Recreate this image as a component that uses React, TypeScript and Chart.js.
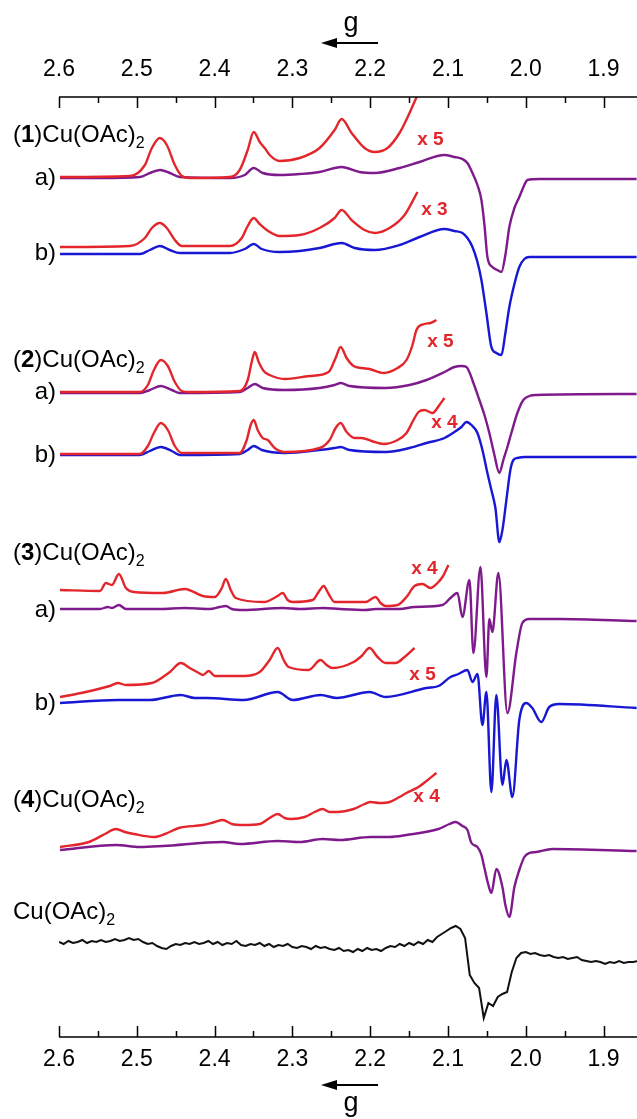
import React, { useEffect, useRef } from "react";
import { Chart, registerables } from "chart.js";

Chart.register(...registerables);

// ---------- axis ----------
const G_MIN = 1.857;
const G_MAX = 2.6;
const MAJOR_TICKS = [2.6, 2.5, 2.4, 2.3, 2.2, 2.1, 2.0, 1.9];
const MAJOR_LABELS = ["2.6", "2.5", "2.4", "2.3", "2.2", "2.1", "2.0", "1.9"];
const MINOR_TICKS = [2.55, 2.45, 2.35, 2.25, 2.15, 2.05, 1.95];

// ---------- (1)Cu(OAc)2 a) ----------
const G_1A = [2.5987, 2.547, 2.496, 2.483, 2.47, 2.4575, 2.4447, 2.3805, 2.3612, 2.3497, 2.3381, 2.3163, 2.2906, 2.265, 2.2367, 2.2136, 2.1943, 2.1623, 2.1366, 2.1045, 2.0917, 2.0814, 2.075, 2.0685, 2.0621, 2.057, 2.0531, 2.0493, 2.0429, 2.0365, 2.0313, 2.0262, 2.0211, 2.0146, 2.0083, 2.0018, 1.9979, 1.9825, 1.8575];
const I_1A = [0, 0, 1, 5, 8, 5, 1, 0, 3, 10, 5, 3, 4, 6, 11, 6, 5, 10, 16, 23, 21, 19, 15, 5, -7, -22, -47, -79, -89, -92, -94, -77, -49, -30, -19, -7, -2, -1, -1];
const G_1A_X5 = [2.5987, 2.5089, 2.4896, 2.4806, 2.4704, 2.4614, 2.4511, 2.4421, 2.4319, 2.3805, 2.3677, 2.3574, 2.3497, 2.342, 2.3356, 2.3292, 2.3163, 2.2906, 2.265, 2.2457, 2.2367, 2.2239, 2.2072, 2.1943, 2.1777, 2.1623, 2.1494, 2.1392];
const I_1A_X5 = [0, 1, 12, 29, 39, 32, 12, 1, -1, 0, 7, 27, 45, 35, 29, 22, 16, 19, 29, 47, 58, 44, 29, 25, 29, 44, 64, 82];

// ---------- (1)Cu(OAc)2 b) ----------
const G_1B = [2.5987, 2.496, 2.4832, 2.4704, 2.4575, 2.4447, 2.3805, 2.3612, 2.3497, 2.3394, 2.3163, 2.2906, 2.265, 2.2367, 2.22, 2.1943, 2.1623, 2.1366, 2.1045, 2.0917, 2.0814, 2.075, 2.0685, 2.0621, 2.057, 2.0506, 2.0442, 2.0378, 2.0313, 2.0262, 2.0211, 2.0146, 2.0083, 2.0018, 1.9954, 1.8575];
const I_1B = [0, 0, 4, 8, 4, 1, 1, 5, 10, 5, 2, 3, 6, 11, 6, 4, 9, 17, 25, 23, 21, 16, 7, -8, -26, -59, -93, -99, -101, -79, -53, -30, -13, -5, -3, -3];
const G_1B_X3 = [2.5987, 2.5089, 2.4896, 2.4806, 2.4704, 2.4614, 2.4511, 2.4421, 2.3805, 2.3651, 2.3574, 2.3497, 2.342, 2.333, 2.3163, 2.2906, 2.265, 2.2457, 2.2367, 2.2239, 2.2072, 2.1943, 2.1751, 2.1558, 2.1392];
const I_1B_X3 = [0, 1, 9, 19, 24, 19, 7, 1, 1, 9, 21, 29, 23, 17, 11, 12, 19, 29, 37, 27, 17, 14, 19, 32, 55];

// ---------- (2)Cu(OAc)2 a) ----------
const G_2A = [2.5987, 2.496, 2.4832, 2.4691, 2.455, 2.4447, 2.3677, 2.3574, 2.3484, 2.3381, 2.3099, 2.265, 2.2457, 2.238, 2.2264, 2.1802, 2.1494, 2.1276, 2.1045, 2.0917, 2.0827, 2.0762, 2.0673, 2.0596, 2.0531, 2.0468, 2.0403, 2.0339, 2.0288, 2.0236, 2.0185, 2.0108, 2.0031, 1.9954, 1.9864, 1.8575];
const I_2A = [0, 0, 3, 7, 3, 0, 1, 5, 9, 5, 3, 5, 8, 10, 7, 5, 8, 13, 21, 26, 27, 26, 10, -7, -22, -40, -62, -80, -67, -54, -40, -20, -7, -3, -2, -1];
const G_2A_X5 = [2.5987, 2.496, 2.4858, 2.478, 2.4691, 2.4601, 2.4511, 2.4421, 2.4319, 2.3677, 2.3574, 2.3523, 2.3484, 2.3433, 2.3369, 2.3292, 2.3099, 2.2778, 2.2534, 2.2444, 2.238, 2.2303, 2.2213, 2.211, 2.2008, 2.1828, 2.1648, 2.1533, 2.1456, 2.1405, 2.1302, 2.1225, 2.1148];
const I_2A_X5 = [0, 0, 7, 22, 32, 26, 10, 1, 0, 1, 12, 30, 40, 30, 21, 17, 13, 16, 20, 34, 45, 34, 26, 24, 23, 19, 24, 32, 47, 62, 68, 69, 72];

// ---------- (2)Cu(OAc)2 b) ----------
const G_2B = [2.5987, 2.496, 2.4832, 2.4691, 2.455, 2.4447, 2.3677, 2.3574, 2.3497, 2.3394, 2.3099, 2.265, 2.2457, 2.238, 2.2264, 2.1802, 2.1494, 2.1276, 2.1045, 2.0917, 2.0827, 2.0762, 2.0698, 2.0621, 2.0557, 2.0493, 2.0442, 2.039, 2.0339, 2.03, 2.0249, 2.0198, 2.0159, 2.0108, 2.0005, 1.8575];
const I_2B = [0, 0, 4, 8, 4, 0, 1, 5, 9, 5, 2, 5, 7, 8, 5, 3, 7, 12, 17, 23, 28, 33, 30, 22, 5, -18, -35, -53, -87, -75, -45, -15, -5, -3, -2, -2];
const G_2B_X4 = [2.5987, 2.496, 2.4858, 2.478, 2.4691, 2.4601, 2.4511, 2.4421, 2.3677, 2.3587, 2.3536, 2.3497, 2.3446, 2.3381, 2.3317, 2.3228, 2.3099, 2.265, 2.2521, 2.2444, 2.238, 2.2303, 2.22, 2.211, 2.1982, 2.1828, 2.1648, 2.1533, 2.1443, 2.1379, 2.1302, 2.1199, 2.111, 2.1045];
const I_2B_X4 = [0, 0, 8, 21, 31, 24, 8, 1, 1, 14, 29, 34, 24, 16, 14, 6, 2, 6, 14, 26, 31, 22, 16, 16, 13, 10, 14, 21, 34, 42, 44, 41, 49, 56];

// ---------- (3)Cu(OAc)2 a) ----------
const G_3A = [2.5987, 2.5474, 2.5371, 2.532, 2.523, 2.514, 2.4704, 2.4383, 2.4062, 2.3933, 2.3856, 2.3779, 2.3625, 2.3125, 2.2906, 2.2598, 2.2393, 2.2059, 2.193, 2.1623, 2.143, 2.1071, 2.0968, 2.0878, 2.0814, 2.0724, 2.0673, 2.0583, 2.0506, 2.0468, 2.0429, 2.0352, 2.0236, 2.0121, 2.0044, 1.9954, 1.9569, 1.8575];
const I_3A = [0, 0, 2, 1, 4, 0, 0, 1, 0, 2, 3, 0, -1, 1, 0, 1, 0, -1, 0, 0, 2, 4, 11, 16, -8, 29, -44, 42, -68, -10, -23, 36, -104, -44, -14, -10, -10, -12];
const G_3A_X4 = [2.5987, 2.5474, 2.5397, 2.532, 2.523, 2.514, 2.5037, 2.4665, 2.4383, 2.4151, 2.3997, 2.3907, 2.3856, 2.3792, 2.3728, 2.3368, 2.3189, 2.3125, 2.3061, 2.2997, 2.274, 2.2663, 2.2598, 2.2534, 2.2457, 2.2059, 2.193, 2.1866, 2.1802, 2.1648, 2.1533, 2.143, 2.1327, 2.1225, 2.1135, 2.1071, 2.0994];
const I_3A_X4 = [0, -1, 7, 5, 16, 2, -2, -3, 1, -6, -7, 2, 11, 0, -8, -12, -6, -3, -10, -12, -10, -2, 4, -4, -12, -12, -7, -13, -16, -15, -7, 4, 6, 2, 7, 13, 25];

// ---------- (3)Cu(OAc)2 b) ----------
const G_3B = [2.5987, 2.5243, 2.4832, 2.4434, 2.4255, 2.4101, 2.3625, 2.3189, 2.2997, 2.2637, 2.2431, 2.2008, 2.1802, 2.1276, 2.1122, 2.0968, 2.0865, 2.075, 2.0685, 2.0621, 2.0557, 2.0506, 2.0442, 2.0378, 2.03, 2.0249, 2.0172, 2.0083, 1.9993, 1.9916, 1.98, 1.9698, 1.9569, 1.8575];
const I_3B = [0, 3, 3, 8, 5, 5, 3, 11, 3, 8, 5, 11, 6, 15, 17, 26, 29, 33, 21, 29, -22, 11, -89, 8, -82, -57, -94, -17, 0, -5, -19, -4, -1, -5];
const G_3B_X5 = [2.5987, 2.5718, 2.5346, 2.5243, 2.514, 2.4806, 2.4575, 2.4434, 2.4319, 2.4203, 2.4151, 2.4075, 2.3997, 2.3625, 2.342, 2.3292, 2.3189, 2.3112, 2.3048, 2.2791, 2.2637, 2.256, 2.2483, 2.2213, 2.211, 2.2008, 2.1905, 2.1802, 2.1674, 2.1558, 2.143];
const I_3B_X5 = [0, 4, 11, 14, 12, 14, 25, 34, 29, 24, 22, 26, 21, 21, 25, 37, 49, 37, 30, 27, 37, 32, 29, 35, 41, 49, 40, 34, 34, 40, 49];

// ---------- (4)Cu(OAc)2 ----------
const G_4 = [2.5987, 2.5268, 2.496, 2.4665, 2.3895, 2.3677, 2.3189, 2.2906, 2.2611, 2.2393, 2.1995, 2.1751, 2.1533, 2.1122, 2.0981, 2.0904, 2.0814, 2.075, 2.0698, 2.0621, 2.057, 2.0531, 2.048, 2.0442, 2.0378, 2.03, 2.0262, 2.0211, 2.0146, 2.0083, 2.0018, 1.9954, 1.9864, 1.9659, 1.8575];
const I_4 = [0, 5, 3, 4, 8, 6, 9, 8, 11, 10, 13, 13, 15, 21, 26, 28, 24, 20, 7, 3, -5, -18, -35, -43, -19, -37, -55, -67, -37, -20, -7, -3, -2, 1, -1];
const G_4_X4 = [2.5987, 2.5615, 2.5409, 2.5268, 2.5153, 2.5037, 2.478, 2.4639, 2.446, 2.4151, 2.3997, 2.3895, 2.3779, 2.3625, 2.342, 2.3292, 2.3189, 2.3099, 2.3022, 2.2842, 2.2714, 2.2611, 2.2521, 2.2431, 2.2213, 2.2072, 2.1995, 2.1879, 2.1751, 2.1623, 2.1533, 2.1379, 2.1276, 2.1148];
const I_4_X4 = [0, 5, 13, 18, 15, 13, 10, 13, 19, 22, 25, 27, 23, 22, 23, 29, 33, 29, 28, 30, 35, 38, 35, 35, 38, 43, 45, 44, 45, 50, 54, 60, 66, 74];

// ---------- Cu(OAc)2 ----------
const G_CU = [2.6, 2.594, 2.588, 2.582, 2.576, 2.57, 2.564, 2.558, 2.552, 2.546, 2.54, 2.534, 2.528, 2.522, 2.516, 2.51, 2.504, 2.498, 2.492, 2.486, 2.48, 2.474, 2.468, 2.462, 2.456, 2.45, 2.444, 2.438, 2.432, 2.426, 2.42, 2.414, 2.408, 2.402, 2.396, 2.39, 2.384, 2.378, 2.372, 2.366, 2.36, 2.354, 2.348, 2.342, 2.336, 2.33, 2.324, 2.318, 2.312, 2.306, 2.3, 2.294, 2.288, 2.282, 2.276, 2.27, 2.264, 2.258, 2.252, 2.246, 2.24, 2.234, 2.228, 2.222, 2.216, 2.21, 2.204, 2.198, 2.192, 2.186, 2.18, 2.174, 2.168, 2.162, 2.156, 2.15, 2.144, 2.138, 2.132, 2.126, 2.12, 2.114, 2.108, 2.102, 2.096, 2.09, 2.084, 2.078, 2.072, 2.066, 2.06, 2.054, 2.048, 2.042, 2.036, 2.03, 2.024, 2.018, 2.012, 2.006, 2.0, 1.994, 1.988, 1.982, 1.976, 1.97, 1.964, 1.958, 1.952, 1.946, 1.94, 1.934, 1.928, 1.922, 1.916, 1.91, 1.904, 1.898, 1.892, 1.886, 1.88, 1.874, 1.868, 1.862, 1.856];
const I_CU = [0, -2, 1, -1, 0, 2, -1, 1, 0, 2, 0, 1, 3, 1, 2, 4, 2, 3, 0, -2, -1, -4, -6, -7, -4, -2, -3, -1, -2, 0, -2, -1, 1, -2, 0, -3, -1, -2, 1, -3, -4, -2, -3, -1, -4, -2, -5, -3, -4, -2, -5, -6, -4, -5, -7, -4, -6, -5, -7, -8, -6, -9, -8, -10, -7, -9, -6, -8, -7, -9, -6, -4, -5, -2, -4, -1, -3, 0, -2, 2, 0, 5, 8, 11, 14, 16, 13, 4, -33, -41, -46, -76, -61, -64, -55, -52, -50, -30, -16, -11, -10, -12, -11, -13, -14, -13, -15, -16, -15, -17, -16, -15, -18, -19, -20, -19, -20, -22, -20, -21, -19, -21, -20, -20, -19];

// vertical stacking offsets of each trace (plot units)
const OFFSETS = { a1: 859, a1x: 860, b1: 783, b1x: 790, a2: 644, a2x: 645, b2: 582, b2x: 583, a3: 428, a3x: 447, b3: 334, b3x: 340, t4: 187, t4x: 190, cu: 95 };

const RED = "#e3262c";
const PURPLE = "#7e1a8c";
const BLUE = "#1717d4";
const BLACK = "#111111";

const SERIES = [
  { g: G_1A_X5, v: I_1A_X5, off: OFFSETS.a1x, color: RED, smooth: true },
  { g: G_1A, v: I_1A, off: OFFSETS.a1, color: PURPLE, smooth: true },
  { g: G_1B_X3, v: I_1B_X3, off: OFFSETS.b1x, color: RED, smooth: true },
  { g: G_1B, v: I_1B, off: OFFSETS.b1, color: BLUE, smooth: true },
  { g: G_2A_X5, v: I_2A_X5, off: OFFSETS.a2x, color: RED, smooth: true },
  { g: G_2A, v: I_2A, off: OFFSETS.a2, color: PURPLE, smooth: true },
  { g: G_2B_X4, v: I_2B_X4, off: OFFSETS.b2x, color: RED, smooth: true },
  { g: G_2B, v: I_2B, off: OFFSETS.b2, color: BLUE, smooth: true },
  { g: G_3A_X4, v: I_3A_X4, off: OFFSETS.a3x, color: RED, smooth: true },
  { g: G_3A, v: I_3A, off: OFFSETS.a3, color: PURPLE, smooth: true },
  { g: G_3B_X5, v: I_3B_X5, off: OFFSETS.b3x, color: RED, smooth: true },
  { g: G_3B, v: I_3B, off: OFFSETS.b3, color: BLUE, smooth: true },
  { g: G_4_X4, v: I_4_X4, off: OFFSETS.t4x, color: RED, smooth: true },
  { g: G_4, v: I_4, off: OFFSETS.t4, color: PURPLE, smooth: true },
  { g: G_CU, v: I_CU, off: OFFSETS.cu, color: BLACK, smooth: false },
];

// multiplier labels: [text, g, plot value]
const MULTIPLIERS: [string, number, number][] = [
  ["x 5", 2.1225, 897],
  ["x 3", 2.1174, 827],
  ["x 5", 2.1097, 695],
  ["x 4", 2.1045, 614],
  ["x 4", 2.1302, 468],
  ["x 5", 2.1327, 362],
  ["x 4", 2.1276, 240],
];

// sample labels: [compound number, plot value]
const COMPOUNDS: [string, number][] = [
  ["1", 902],
  ["2", 677],
  ["3", 484],
  ["4", 237],
  ["", 125],
];
// sub-spectrum labels: [text, plot value]
const SUBLABELS: [string, number][] = [
  ["a)", 859],
  ["b)", 784],
  ["a)", 645],
  ["b)", 582],
  ["a)", 427],
  ["b)", 334],
];

const FONT = '"Liberation Sans", Arial, Helvetica, sans-serif';

const overlayPlugin = {
  id: "overlay",
  afterDraw(chart: any) {
    const ctx: CanvasRenderingContext2D = chart.ctx;
    const xs = chart.scales.x;
    const ys = chart.scales.y;
    const { left, right, top, bottom } = chart.chartArea;
    ctx.save();
    ctx.strokeStyle = "#000";
    ctx.fillStyle = "#000";
    ctx.lineWidth = 1.6;
    ctx.beginPath();
    ctx.moveTo(left, top);
    ctx.lineTo(right, top);
    ctx.moveTo(left, bottom);
    ctx.lineTo(right, bottom);
    ctx.stroke();
    ctx.lineWidth = 1.5;
    ctx.beginPath();
    MAJOR_TICKS.forEach((t) => {
      const px = Math.round(xs.getPixelForValue(t)) + 0.5;
      ctx.moveTo(px, top);
      ctx.lineTo(px, top + 11);
      ctx.moveTo(px, bottom);
      ctx.lineTo(px, bottom - 11);
    });
    MINOR_TICKS.forEach((t) => {
      const px = Math.round(xs.getPixelForValue(t)) + 0.5;
      ctx.moveTo(px, top);
      ctx.lineTo(px, top + 6);
      ctx.moveTo(px, bottom);
      ctx.lineTo(px, bottom - 6);
    });
    ctx.stroke();

    ctx.font = `23px ${FONT}`;
    ctx.textAlign = "center";
    ctx.textBaseline = "middle";
    MAJOR_TICKS.forEach((t, i) => {
      const px = xs.getPixelForValue(t);
      ctx.fillText(MAJOR_LABELS[i], px, top - 27);
      ctx.fillText(MAJOR_LABELS[i], px, bottom + 23);
    });

    // axis titles with arrows
    const drawTitle = (arrowY: number, gBase: number) => {
      ctx.font = `27px ${FONT}`;
      ctx.textAlign = "center";
      ctx.textBaseline = "alphabetic";
      ctx.fillText("g", 351, gBase);
      ctx.lineWidth = 2;
      ctx.beginPath();
      ctx.moveTo(378, arrowY);
      ctx.lineTo(334, arrowY);
      ctx.stroke();
      ctx.beginPath();
      ctx.moveTo(321, arrowY);
      ctx.lineTo(337, arrowY - 5);
      ctx.lineTo(337, arrowY + 5);
      ctx.closePath();
      ctx.fill();
    };
    drawTitle(43, 31);
    drawTitle(1085, 1111);

    // compound labels
    const drawCompound = (num: string, y: number) => {
      let cx = 13;
      ctx.textAlign = "left";
      ctx.textBaseline = "middle";
      const put = (t: string, f: string, dy = 0) => {
        ctx.font = f;
        ctx.fillText(t, cx, y + dy);
        cx += ctx.measureText(t).width;
      };
      const reg = `24px ${FONT}`;
      if (num) {
        put("(", reg);
        put(num, `bold 24px ${FONT}`);
        put(")Cu(OAc)", reg);
      } else {
        put("Cu(OAc)", reg);
      }
      put("2", `16px ${FONT}`, 9);
    };
    COMPOUNDS.forEach(([n, v]) => drawCompound(n, ys.getPixelForValue(v)));

    ctx.font = `24px ${FONT}`;
    ctx.textAlign = "right";
    ctx.textBaseline = "middle";
    SUBLABELS.forEach(([t, v]) => ctx.fillText(t, 56, ys.getPixelForValue(v)));

    ctx.fillStyle = RED;
    ctx.font = `bold 19px ${FONT}`;
    ctx.textAlign = "center";
    MULTIPLIERS.forEach(([t, g, v]) => ctx.fillText(t, xs.getPixelForValue(g), ys.getPixelForValue(v)));
    ctx.restore();
  },
};

export default function App() {
  const ref = useRef<HTMLCanvasElement | null>(null);
  useEffect(() => {
    document.body.style.margin = "0";
    if (!ref.current) return;
    const datasets = SERIES.map((s) => ({
      data: s.g.map((g, i) => ({ x: g, y: s.v[i] + s.off })),
      borderColor: s.color,
      backgroundColor: s.color,
      borderWidth: s.smooth ? 2.4 : 2,
      pointRadius: 0,
      showLine: true,
      fill: false,
      tension: s.smooth ? 0.4 : 0,
      cubicInterpolationMode: s.smooth ? ("monotone" as const) : ("default" as const),
      order: s.color === RED ? 0 : 1,
    }));
    const chart = new Chart(ref.current, {
      type: "scatter",
      data: { datasets },
      options: {
        animation: false,
        responsive: false,
        maintainAspectRatio: false,
        layout: { padding: { left: 59, right: 0, top: 97, bottom: 82 } },
        scales: {
          x: { type: "linear", min: G_MIN, max: G_MAX, reverse: true, display: false },
          y: { type: "linear", min: 0, max: 940, display: false },
        },
        plugins: { legend: { display: false }, tooltip: { enabled: false } },
        events: [],
      },
      plugins: [overlayPlugin],
    });
    return () => chart.destroy();
  }, []);
  return (
    <div style={{ position: "absolute", left: 0, top: 0, width: 637, height: 1119, background: "#fff" }}>
      <canvas ref={ref} width={637} height={1119} style={{ width: 637, height: 1119, display: "block" }} />
    </div>
  );
}
